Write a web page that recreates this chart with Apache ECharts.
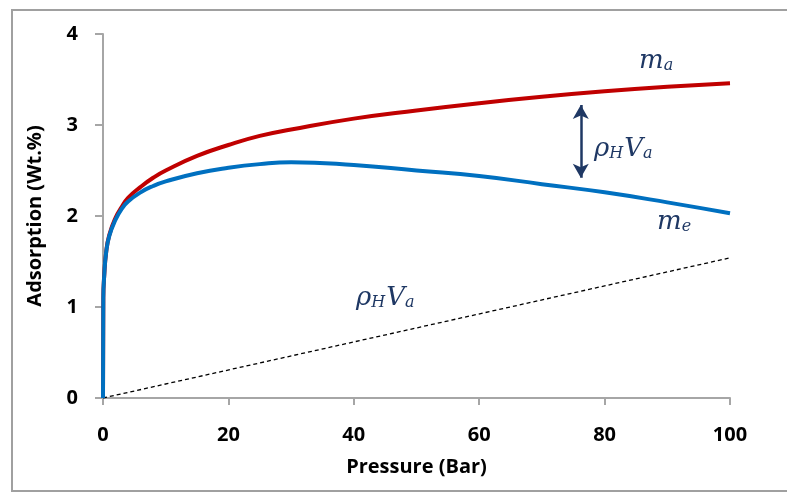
<!DOCTYPE html>
<html>
<head>
<meta charset="utf-8">
<script src="https://cdn.jsdelivr.net/npm/echarts@6/dist/echarts.min.js"></script>
<style>
html,body{margin:0;padding:0;background:#fff;}
#chart{width:787px;height:494px;}
</style>
</head>
<body>
<div id="chart"></div>
<script>
// ---- data ----
const pressure = [0, 0.05, 0.2, 0.5, 1, 2, 3, 4, 6, 8, 10, 15, 20, 25, 30, 40, 50, 60, 70, 80, 90, 100];
const absoluteMa = [0, 1.1, 1.35, 1.6, 1.79, 1.98, 2.1, 2.2, 2.32, 2.42, 2.5, 2.66, 2.78, 2.88, 2.95, 3.07, 3.16, 3.24, 3.31, 3.37, 3.42, 3.46];
const excessMe = [0, 1.1, 1.35, 1.6, 1.78, 1.96, 2.08, 2.16, 2.26, 2.33, 2.38, 2.47, 2.53, 2.57, 2.59, 2.56, 2.5, 2.44, 2.35, 2.26, 2.15, 2.03];
const gasPressure = [0, 100];
const gasRhoV = [0, 1.54];
const arrowP = 76.2;
const arrowRange = [3.22, 2.42];
const xTicks = [0, 20, 40, 60, 80, 100];
const yTicks = [0, 1, 2, 3, 4];

const zip = (xs, ys) => xs.map((x, i) => [x, ys[i]]);

const chart = echarts.init(document.getElementById('chart'));
const fontFam = '"Open Sans", sans-serif';
const mathColor = '#1F3864';
const axisGray = '#A6A6A6';

function mathLabel(x, y, parts) {
  let s = '';
  parts.forEach(p => { s += '{b|' + p[0] + '}{s|' + p[1] + '}'; });
  return {
    type: 'text', left: x, top: y, silent: true,
    style: {
      text: s,
      rich: {
        b: { fontSize: 26, fontStyle: 'italic', fontFamily: '"DejaVu Serif", serif', fill: mathColor, verticalAlign: 'bottom', lineHeight: 30 },
        s: { fontSize: 16, fontStyle: 'italic', fontFamily: '"DejaVu Serif", serif', fill: mathColor, verticalAlign: 'bottom', lineHeight: 15, padding: [0, 1, 0, 0] }
      }
    }
  };
}

chart.setOption({
  animation: false,
  backgroundColor: '#fff',
  grid: { left: 103, right: 57, top: 34, bottom: 96, containLabel: false },
  xAxis: {
    type: 'value', min: xTicks[0], max: xTicks[xTicks.length - 1], interval: 20,
    name: 'Pressure (Bar)', nameLocation: 'middle', nameGap: 59,
    nameTextStyle: { fontSize: 20, fontWeight: 'bold', fontFamily: fontFam, color: '#000' },
    axisLine: { show: true, lineStyle: { color: axisGray, width: 2 } },
    axisTick: { show: true, length: 7, lineStyle: { color: axisGray, width: 2 } },
    axisLabel: { fontSize: 20, fontWeight: 'bold', fontFamily: fontFam, color: '#000', margin: 27 },
    splitLine: { show: false }
  },
  yAxis: {
    type: 'value', min: yTicks[0], max: yTicks[yTicks.length - 1], interval: 1,
    name: 'Adsorption (Wt.%)', nameLocation: 'middle', nameGap: 58,
    nameTextStyle: { fontSize: 20, fontWeight: 'bold', fontFamily: fontFam, color: '#000' },
    axisLine: { show: true, lineStyle: { color: axisGray, width: 2 } },
    axisTick: { show: true, length: 8, lineStyle: { color: axisGray, width: 2 } },
    axisLabel: { fontSize: 20, fontWeight: 'bold', fontFamily: fontFam, color: '#000', margin: 25 },
    splitLine: { show: false }
  },
  series: [
    {
      name: 'rhoHVa', type: 'line', data: zip(gasPressure, gasRhoV), showSymbol: false,
      lineStyle: { color: '#000', width: 1.3, type: [4, 3] }, z: 2,
      markLine: {
        silent: true, symbol: ['arrow', 'arrow'], symbolSize: [12, 14],
        label: { show: false },
        lineStyle: { color: mathColor, width: 2.5, type: 'solid' },
        emphasis: { disabled: true },
        data: [[{ coord: [arrowP, arrowRange[0]] }, { coord: [arrowP, arrowRange[1]] }]]
      }
    },
    {
      name: 'ma', type: 'line', data: zip(pressure, absoluteMa), showSymbol: false,
      smooth: 0.5,
      lineStyle: { color: '#C00000', width: 4 }, z: 3
    },
    {
      name: 'me', type: 'line', data: zip(pressure, excessMe), showSymbol: false,
      smooth: 0.5,
      lineStyle: { color: '#0070C0', width: 4 }, z: 4
    }
  ],
  graphic: [
    { type: 'rect', silent: true, shape: { x: 12, y: 10, width: 790, height: 481 },
      style: { fill: 'none', stroke: '#A0A0A0', lineWidth: 2 }, z: -1 },
    mathLabel(639, 48, [['m', 'a']]),
    mathLabel(594, 136, [['ρ', 'H'], ['V', 'a']]),
    mathLabel(657, 209, [['m', 'e']]),
    mathLabel(356, 285, [['ρ', 'H'], ['V', 'a']])
  ]
});
</script>
</body>
</html>
